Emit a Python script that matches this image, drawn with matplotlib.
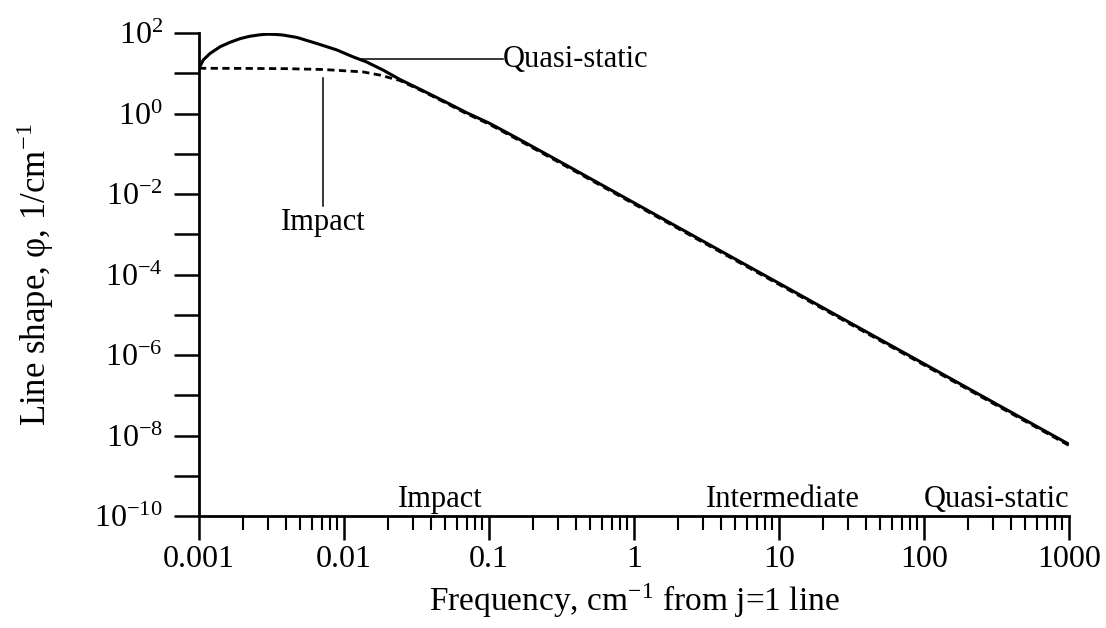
import matplotlib
matplotlib.use("Agg")
import matplotlib.pyplot as plt
from matplotlib.ticker import LogLocator, FuncFormatter, NullFormatter
import numpy as np

plt.rcParams['font.family'] = ['Liberation Serif', 'DejaVu Serif']
plt.rcParams['mathtext.fontset'] = 'stix'

# Quasi-static line shape (solid)
qs_x = [0.001, 0.00107, 0.00119, 0.0014, 0.00164, 0.00192, 0.00225, 0.00263, 0.00294,
        0.00334, 0.00379, 0.00473, 0.00648, 0.00891, 0.0115, 0.0143, 0.0186, 0.0243,
        0.035, 0.05, 0.07, 0.1, 0.15, 0.2, 0.3, 1, 3, 10, 30, 100, 300, 1000]
qs_y = [13.3, 21.4, 30.9, 45.7, 58.9, 72.4, 83.2, 90.2, 93.3,
        92.3, 89.1, 77.6, 55.0, 38.0, 25.7, 19.1, 12.0, 7.0,
        3.7, 1.95, 1.05, 0.58, 0.265, 0.15, 0.0672, 0.00605, 6.7e-4, 6.05e-5,
        6.7e-6, 6.05e-7, 6.7e-8, 6.05e-9]

# Impact line shape (dashed)
im_x = [0.001, 0.002, 0.004, 0.0072, 0.0135, 0.0177, 0.0243, 0.035, 0.05, 0.07, 0.1,
        0.15, 0.2, 0.3, 1, 3, 10, 30, 100, 300, 1000]
im_y = [13.3, 13.2, 13.0, 12.4, 10.8, 9.0, 6.6, 3.55, 1.85, 0.99, 0.545,
        0.248, 0.14, 0.0627, 0.00565, 6.25e-4, 5.65e-5, 6.25e-6, 5.65e-7, 6.25e-8, 5.65e-9]

x_ticks = [0.001, 0.01, 0.1, 1, 10, 100, 1000]
x_tick_labels = ['0.001', '0.01', '0.1', '1', '10', '100', '1000']
regime_labels = ['Impact', 'Intermediate', 'Quasi-static']

fig = plt.figure(figsize=(11.06, 6.28), dpi=100)
ax = fig.add_axes([199/1106, (628-516)/628, (1069-199)/1106, (516-33)/628])

ax.plot(qs_x, qs_y, color='black', lw=2.2, solid_capstyle='butt', solid_joinstyle='round')
ax.plot(im_x, im_y, color='black', lw=2.0, dashes=(2.6, 1.6))

ax.set_xscale('log')
ax.set_yscale('log')
ax.set_xlim(1e-3, 1e3)
ax.set_ylim(1e-10, 1e2)

for s in ['top', 'right']:
    ax.spines[s].set_visible(False)
for s in ['left', 'bottom']:
    ax.spines[s].set_linewidth(2.0)

ax.set_xticks(x_ticks)
ax.set_xticklabels(x_tick_labels)
ax.xaxis.set_minor_locator(LogLocator(base=10, subs=np.arange(2, 10), numticks=20))
ax.xaxis.set_minor_formatter(NullFormatter())
ax.tick_params(axis='x', which='major', direction='out', length=17, width=1.8,
               labelsize=23, pad=4)
ax.tick_params(axis='x', which='minor', direction='out', length=10, width=1.5)

ax.yaxis.set_major_locator(LogLocator(base=10, numticks=20))
ax.yaxis.set_minor_locator(LogLocator(base=10, subs=[], numticks=20))
def yfmt(v, pos):
    e = int(round(np.log10(v)))
    if e % 2 == 0:
        return r'$\mathregular{10^{%d}}$' % e
    return ''
ax.yaxis.set_major_formatter(FuncFormatter(yfmt))
ax.tick_params(axis='y', which='major', direction='out', length=18, width=1.8,
               labelsize=23, pad=8)

ax.set_xlabel(r'Frequency, cm$^{\mathregular{-1}}$ from j=1 line', fontsize=24, labelpad=5)
ax.set_ylabel(r'Line shape, φ, 1/cm$^{\mathregular{-1}}$', fontsize=25, labelpad=28)

# Leader annotations
ax.plot([0.0129, 0.125], [22, 22], color='black', lw=1.1)
ax.text(0.125, 22, 'Quasi-static', fontsize=22, ha='left', va='center')
ax.plot([0.0072, 0.0072], [7.5, 0.0051], color='black', lw=1.1)
ax.text(0.0072, 10**-2.89, 'Impact', fontsize=22, ha='center', va='baseline')

# Regime labels along bottom
ax.text(0.046, 10**-9.77, regime_labels[0], fontsize=22, ha='center', va='baseline')
ax.text(10.7, 10**-9.77, regime_labels[1], fontsize=22, ha='center', va='baseline')
ax.text(1000, 10**-9.77, regime_labels[2], fontsize=22, ha='right', va='baseline')

fig.savefig('out.png', dpi=100)
